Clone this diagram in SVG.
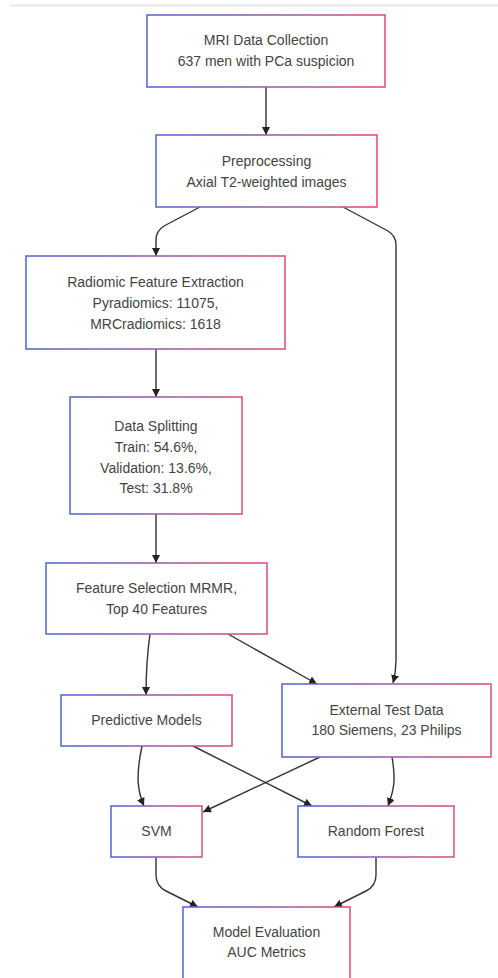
<svg xmlns="http://www.w3.org/2000/svg" width="498" height="978" viewBox="0 0 498 978">
<defs>
<linearGradient id="bd" x1="0" y1="0" x2="1" y2="0">
<stop offset="0" stop-color="#5a6cd6"/>
<stop offset="0.5" stop-color="#9a62b4"/>
<stop offset="1" stop-color="#dc5580"/>
</linearGradient>
<marker id="ah" viewBox="0 0 10 10" refX="10" refY="5" markerWidth="8" markerHeight="8" markerUnits="userSpaceOnUse" orient="auto">
<path d="M0,0 L10,5 L0,10 z" fill="#222"/>
</marker>
<style>
.box{fill:#fff;stroke:url(#bd);stroke-width:1.6}
.t{font-family:"Liberation Sans",Arial,sans-serif;font-size:14px;fill:#444;text-anchor:middle}
.e{fill:none;stroke:#333;stroke-width:1.4;marker-end:url(#ah)}
</style>
</defs>
<rect width="498" height="978" fill="#fff"/>
<line x1="10" y1="5.5" x2="498" y2="5.5" stroke="#e8e8e8" stroke-width="2"/>
<g id="connectors">
<path class="e" d="M266,87 L266,135"/>
<path class="e" d="M200,207 L164,226 Q156,231 156,240 L156,256"/>
<path class="e" d="M343,207 L388,231 Q396,236 396,245 L396,660 Q396,672 393,683"/>
<path class="e" d="M156,349 L156,397"/>
<path class="e" d="M156,514 L156,563"/>
<path class="e" d="M150,634 C147,655 146,675 146,695"/>
<path class="e" d="M228,634 L317,684"/>
<path class="e" d="M142,746 C136,775 137,790 144,806"/>
<path class="e" d="M193,746 L312,806"/>
<path class="e" d="M320,757 L203,812"/>
<path class="e" d="M392,757 C396,780 394,790 388,806"/>
<path class="e" d="M156,857 L156,875 Q156,886 166,891 L198,907"/>
<path class="e" d="M376,857 L376,875 Q376,886 366,891 L334,907"/>
</g>
<g id="n1"><rect class="box" x="147" y="15" width="238" height="72"/>
<text class="t" x="266" y="45">MRI Data Collection</text><text class="t" x="266" y="66">637 men with PCa suspicion</text></g>
<g id="n2"><rect class="box" x="156" y="135" width="221" height="72"/>
<text class="t" x="266.5" y="166">Preprocessing</text><text class="t" x="266.5" y="187">Axial T2-weighted images</text></g>
<g id="n3"><rect class="box" x="26" y="256" width="259" height="93"/>
<text class="t" x="155.5" y="287">Radiomic Feature Extraction</text><text class="t" x="155.5" y="308">Pyradiomics: 11075,</text><text class="t" x="155.5" y="329">MRCradiomics: 1618</text></g>
<g id="n4"><rect class="box" x="70" y="397" width="172" height="117"/>
<text class="t" x="156" y="431">Data Splitting</text><text class="t" x="156" y="452">Train: 54.6%,</text><text class="t" x="156" y="473">Validation: 13.6%,</text><text class="t" x="156" y="493">Test: 31.8%</text></g>
<g id="n5"><rect class="box" x="46" y="563" width="221" height="71"/>
<text class="t" x="156.5" y="593">Feature Selection MRMR,</text><text class="t" x="156.5" y="614">Top 40 Features</text></g>
<g id="n6"><rect class="box" x="61" y="695" width="171" height="51"/>
<text class="t" x="146.5" y="725">Predictive Models</text></g>
<g id="n7"><rect class="box" x="282" y="684" width="209" height="73"/>
<text class="t" x="386.5" y="715">External Test Data</text><text class="t" x="386.5" y="735">180 Siemens, 23 Philips</text></g>
<g id="n8"><rect class="box" x="111" y="806" width="91" height="51"/>
<text class="t" x="156.5" y="836">SVM</text></g>
<g id="n9"><rect class="box" x="298" y="806" width="156" height="51"/>
<text class="t" x="376" y="836">Random Forest</text></g>
<g id="n10"><rect class="box" x="183" y="907" width="167" height="80"/>
<text class="t" x="266.5" y="937">Model Evaluation</text><text class="t" x="266.5" y="957">AUC Metrics</text></g>
</svg>
